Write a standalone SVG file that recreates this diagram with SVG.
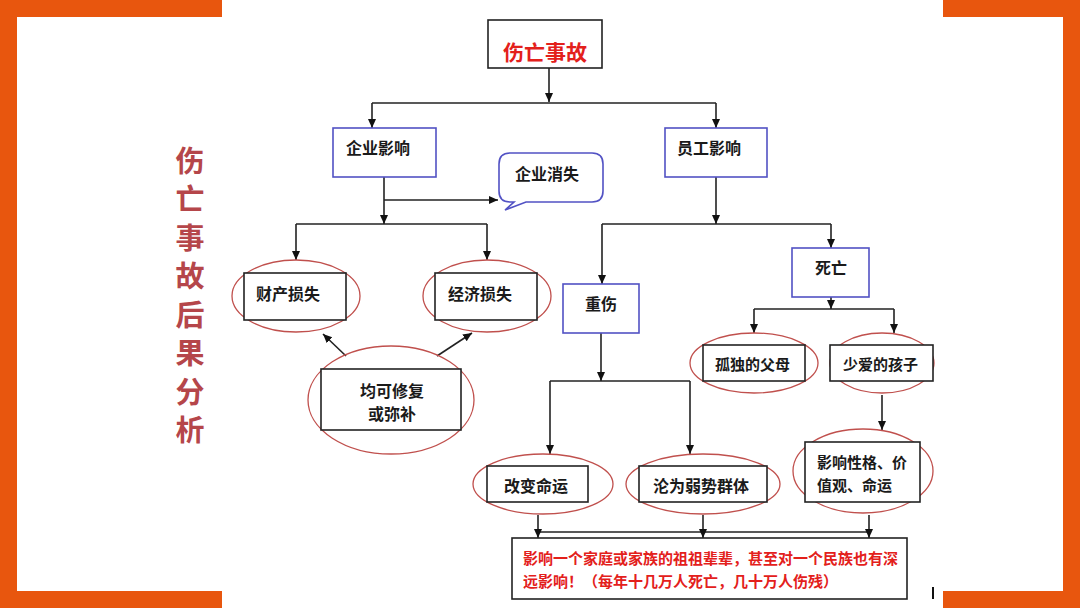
<svg xmlns="http://www.w3.org/2000/svg" width="1080" height="608" viewBox="0 0 1080 608">
<style>
text{font-family:"Noto Sans CJK SC","Noto Sans",sans-serif;font-weight:bold;fill:#1a1a1a;dominant-baseline:central}
.box{fill:#fff;stroke:#222;stroke-width:1.6}
.blue{fill:#fff;stroke:#5252C4;stroke-width:1.6}
.ell{fill:none;stroke:#C0504D;stroke-width:1.3}
.c{fill:none;stroke:#222;stroke-width:1.6}
.orange{fill:#E8560E}
.t16{font-size:16px}
.t15{font-size:15px}
.red{fill:#E3201B}
</style>
<defs>
<marker id="ah" markerUnits="userSpaceOnUse" markerWidth="10" markerHeight="10" refX="9" refY="5" orient="auto">
<path d="M0,1 L9,5 L0,9 Z" fill="#111"/>
</marker>
</defs>
<rect width="1080" height="608" fill="#fff"/>
<g id="frame">
<rect class="orange" x="0" y="0" width="222" height="17"/>
<rect class="orange" x="0" y="0" width="17" height="608"/>
<rect class="orange" x="0" y="591" width="222" height="17"/>
<rect class="orange" x="943" y="0" width="137" height="17"/>
<rect class="orange" x="1063" y="0" width="17" height="608"/>
<rect class="orange" x="943" y="591" width="137" height="17"/>
</g>
<g id="title">
<text x="190" y="159" text-anchor="middle" style="font-size:29px;fill:#B5464A">伤</text>
<text x="190" y="197" text-anchor="middle" style="font-size:29px;fill:#B5464A">亡</text>
<text x="190" y="236" text-anchor="middle" style="font-size:29px;fill:#B5464A">事</text>
<text x="190" y="274" text-anchor="middle" style="font-size:29px;fill:#B5464A">故</text>
<text x="190" y="313" text-anchor="middle" style="font-size:29px;fill:#B5464A">后</text>
<text x="190" y="351" text-anchor="middle" style="font-size:29px;fill:#B5464A">果</text>
<text x="190" y="390" text-anchor="middle" style="font-size:29px;fill:#B5464A">分</text>
<text x="190" y="428" text-anchor="middle" style="font-size:29px;fill:#B5464A">析</text>
</g>
<g id="connectors">
<path class="c" d="M549,68 V102" marker-end="url(#ah)"/>
<path class="c" d="M372,103 H716"/>
<path class="c" d="M372,103 V128" marker-end="url(#ah)"/>
<path class="c" d="M716,103 V128" marker-end="url(#ah)"/>
<path class="c" d="M384,177 V224" marker-end="url(#ah)"/>
<path class="c" d="M384,200 H498" marker-end="url(#ah)"/>
<path class="c" d="M296,224 H487"/>
<path class="c" d="M296,224 V260" marker-end="url(#ah)"/>
<path class="c" d="M487,224 V260" marker-end="url(#ah)"/>
<path class="c" d="M346,356 L323,334" marker-end="url(#ah)"/>
<path class="c" d="M437,356 L472,333" marker-end="url(#ah)"/>
<path class="c" d="M716,177 V224" marker-end="url(#ah)"/>
<path class="c" d="M602,224 H831"/>
<path class="c" d="M602,224 V284" marker-end="url(#ah)"/>
<path class="c" d="M831,224 V248" marker-end="url(#ah)"/>
<path class="c" d="M831,297 V309" marker-end="url(#ah)"/>
<path class="c" d="M754,309 H894"/>
<path class="c" d="M754,309 V333" marker-end="url(#ah)"/>
<path class="c" d="M894,309 V333" marker-end="url(#ah)"/>
<path class="c" d="M882,395 V430" marker-end="url(#ah)"/>
<path class="c" d="M601,333 V381" marker-end="url(#ah)"/>
<path class="c" d="M550,381 H690"/>
<path class="c" d="M550,381 V454" marker-end="url(#ah)"/>
<path class="c" d="M690,381 V454" marker-end="url(#ah)"/>
<path class="c" d="M538,532 H869"/>
<path class="c" d="M538,515 V538" marker-end="url(#ah)"/>
<path class="c" d="M703,515 V538" marker-end="url(#ah)"/>
<path class="c" d="M869,515 V538" marker-end="url(#ah)"/>
</g>
<g id="n-accident">
<rect class="box" x="488" y="20" width="114" height="48"/>
<text x="545" y="51" text-anchor="middle" class="red" style="font-size:21px">伤亡事故</text>
</g>
<g id="n-company">
<rect class="blue" x="333" y="128" width="103" height="49"/>
<text x="346" y="147" class="t16">企业影响</text>
</g>
<g id="n-vanish">
<path class="blue" d="M510,153 H592 Q603,153 603,164 V191 Q603,202 592,202 H526 L505,210 L514,202 H510 Q499,202 499,191 V164 Q499,153 510,153 Z"/>
<text x="515" y="173" class="t16">企业消失</text>
</g>
<g id="n-employee">
<rect class="blue" x="665" y="128" width="102" height="49"/>
<text x="677" y="147" class="t16">员工影响</text>
</g>
<g id="n-property">
<ellipse class="ell" cx="296" cy="296" rx="64" ry="36"/>
<rect class="box" x="244" y="273" width="102" height="47"/>
<text x="256" y="293" class="t16">财产损失</text>
</g>
<g id="n-economy">
<ellipse class="ell" cx="487" cy="296" rx="64" ry="36"/>
<rect class="box" x="435" y="273" width="102" height="47"/>
<text x="448" y="293" class="t16">经济损失</text>
</g>
<g id="n-repair">
<ellipse class="ell" cx="391" cy="400" rx="83" ry="54"/>
<rect class="box" x="321" y="369" width="140" height="61"/>
<text x="392" y="390" text-anchor="middle" class="t16">均可修复</text>
<text x="392" y="413" text-anchor="middle" class="t16">或弥补</text>
</g>
<g id="n-injury">
<rect class="blue" x="563" y="284" width="76" height="49"/>
<text x="585" y="303" class="t16">重伤</text>
</g>
<g id="n-death">
<rect class="blue" x="792" y="248" width="77" height="49"/>
<text x="831" y="267" text-anchor="middle" class="t16">死亡</text>
</g>
<g id="n-parents">
<ellipse class="ell" cx="754" cy="363" rx="64" ry="30"/>
<rect class="box" x="703" y="345" width="102" height="36"/>
<text x="715" y="363" class="t15">孤独的父母</text>
</g>
<g id="n-children">
<ellipse class="ell" cx="882" cy="363" rx="52" ry="30"/>
<rect class="box" x="830" y="345" width="103" height="36"/>
<text x="843" y="363" class="t15">少爱的孩子</text>
</g>
<g id="n-character">
<ellipse class="ell" cx="863" cy="471" rx="70" ry="42"/>
<rect class="box" x="805" y="442" width="115" height="60"/>
<text x="817" y="461" class="t15">影响性格、价</text>
<text x="817" y="484" class="t15">值观、命运</text>
</g>
<g id="n-fate">
<ellipse class="ell" cx="543" cy="484" rx="70" ry="30"/>
<rect class="box" x="487" y="466" width="101" height="36"/>
<text x="504" y="485" class="t16">改变命运</text>
</g>
<g id="n-weak">
<ellipse class="ell" cx="703" cy="484" rx="77" ry="30"/>
<rect class="box" x="639" y="466" width="128" height="36"/>
<text x="653" y="485" class="t16">沦为弱势群体</text>
</g>
<g id="n-impact">
<rect class="box" x="512" y="538" width="395" height="61"/>
<text x="523" y="557" class="t15 red">影响一个家庭或家族的祖祖辈辈，甚至对一个民族也有深</text>
<text x="523" y="580" class="t15 red">远影响！（每年十几万人死亡，几十万人伤残）</text>
</g>
<rect x="932" y="587" width="2" height="12" fill="#111"/>
</svg>
